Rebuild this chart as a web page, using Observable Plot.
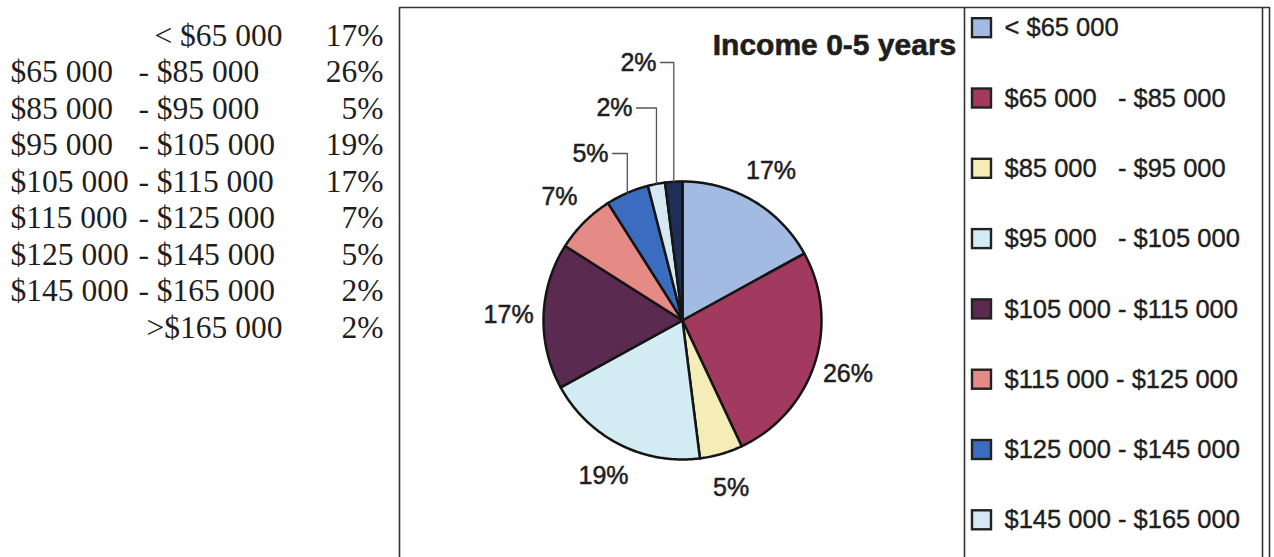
<!DOCTYPE html>
<html>
<head>
<meta charset="utf-8">
<script src="https://cdn.jsdelivr.net/npm/d3@7"></script>
<script src="https://cdn.jsdelivr.net/npm/@observablehq/plot@0.6"></script>
<style>
  html, body { margin: 0; padding: 0; background: #fff; }
  svg text { white-space: pre; }
</style>
</head>
<body>
<div id="chart"></div>
<script>
// ---- data ----
const categories = ["< $65 000", "$65 000 - $85 000", "$85 000 - $95 000", "$95 000 - $105 000",
  "$105 000 - $115 000", "$115 000 - $125 000", "$125 000 - $145 000", "$145 000 - $165 000", ">$165 000"];
const shares = [17, 26, 5, 19, 17, 7, 5, 2, 2];
const colors = ["#a3bbe2", "#a2395f", "#f5edb8", "#d3ecf3", "#5a2a50", "#e68a85", "#3c6cc0", "#d6e9f3", "#1e2f57"];
const title = "Income 0-5 years";

// ---- layout ----
const W = 1274, H = 557;
const cx = 682, cy = 320, R = 139, labelR = 174;
const ink = "#1e1e1e";
const sans = "Liberation Sans, Arial, sans-serif";
const serif = "Liberation Serif, Times New Roman, serif";

const arcs = d3.pie().sort(null).value(d => d)(shares);

// slice polygons
const slicePts = [];
arcs.forEach((a, i) => {
  const n = Math.max(2, Math.ceil((a.endAngle - a.startAngle) / 0.01));
  slicePts.push({i, x: cx, y: cy});
  for (let k = 0; k <= n; k++) {
    const t = a.startAngle + (a.endAngle - a.startAngle) * k / n;
    slicePts.push({i, x: cx + R * Math.sin(t), y: cy - R * Math.cos(t)});
  }
  slicePts.push({i, x: cx, y: cy});
});

// pie labels
const pieLabels = arcs.map((a, i) => {
  const m = (a.startAngle + a.endAngle) / 2;
  if (i < 6) return {i, x: cx + labelR * Math.sin(m), y: cy - labelR * Math.cos(m), text: shares[i] + "%"};
  const k = i - 6;
  return {i, x: cx - 92 + 24 * k, y: cy - 167 - 45.5 * k, text: shares[i] + "%", ex: cx + R * Math.sin(m), ey: cy - R * Math.cos(m)};
});
const leaderPts = [];
pieLabels.filter(d => d.ex !== undefined).forEach(d => {
  leaderPts.push({i: d.i, x: d.x + 22, y: d.y});
  leaderPts.push({i: d.i, x: d.ex, y: d.y});
  leaderPts.push({i: d.i, x: d.ex, y: d.ey});
});

// left table
const rowY = i => 35 + i * 36.5;
const table = categories.map((c, i) => {
  const parts = c.split(" - ");
  return {i, single: parts.length === 1, from: parts[0], to: parts.length > 1 ? "- " + parts[1] : "", pct: shares[i] + "%"};
});

// legend (only the entries that fit inside the frame, as in the original)
const legY = i => 27.7 + i * 70.3;
const legend = categories.map((c, i) => {
  const parts = c.split(" - ");
  const label = parts.length === 1 ? c : (parts[0].length < 8 ? parts[0] + "   - " + parts[1] : c);
  return {i, label};
}).filter(d => legY(d.i) + 14 < H);

// frame lines
const frame = [
  {z: 0, x: 399, y: H}, {z: 0, x: 399, y: 7}, {z: 0, x: 1269, y: 7}, {z: 0, x: 1269, y: H},
  {z: 1, x: 964, y: 7}, {z: 1, x: 964, y: H},
  {z: 2, x: 1262, y: 7}, {z: 2, x: 1262, y: H}
];

const chart = Plot.plot({
  width: W, height: H,
  margin: 0,
  x: {type: "identity", axis: null},
  y: {type: "identity", axis: null},
  color: {type: "identity"},
  style: {background: "#fff", overflow: "hidden"},
  marks: [
    Plot.line(frame, {x: "x", y: "y", z: "z", stroke: "#333", strokeWidth: 1.6}),
    Plot.line(slicePts, {x: "x", y: "y", z: "i", fill: d => colors[d.i], stroke: "#151515", strokeWidth: 2.5, strokeLinejoin: "round"}),
    Plot.line(leaderPts, {x: "x", y: "y", z: "i", stroke: "#555", strokeWidth: 1.3}),
    Plot.text(pieLabels, {x: "x", y: "y", text: "text", fontFamily: sans, fontSize: 25, fill: ink, stroke: ink, strokeWidth: 0.5}),
    Plot.text([title], {x: 834, y: 45, text: d => d, fontFamily: sans, fontSize: 30, fontWeight: "bold", fill: ink, stroke: ink, strokeWidth: 0.6}),
    // left table
    Plot.text(table.filter(d => d.single), {x: 282, y: d => rowY(d.i), text: "from", textAnchor: "end", fontFamily: serif, fontSize: 31.5, fill: ink}),
    Plot.text(table.filter(d => !d.single), {x: 10, y: d => rowY(d.i), text: "from", textAnchor: "start", fontFamily: serif, fontSize: 31.5, fill: ink}),
    Plot.text(table.filter(d => !d.single), {x: 138, y: d => rowY(d.i), text: "to", textAnchor: "start", fontFamily: serif, fontSize: 31.5, fill: ink}),
    Plot.text(table, {x: 383, y: d => rowY(d.i), text: "pct", textAnchor: "end", fontFamily: serif, fontSize: 31.5, fill: ink}),
    // legend
    Plot.rect(legend, {x1: 972, x2: 991, y1: d => legY(d.i) - 9.5, y2: d => legY(d.i) + 9.5, fill: d => colors[d.i], stroke: "#222", strokeWidth: 2.4}),
    Plot.text(legend, {x: 1004, y: d => legY(d.i), text: "label", textAnchor: "start", fontFamily: sans, fontSize: 25.5, fill: ink, stroke: ink, strokeWidth: 0.4})
  ]
});
document.getElementById("chart").appendChild(chart);
</script>
</body>
</html>
